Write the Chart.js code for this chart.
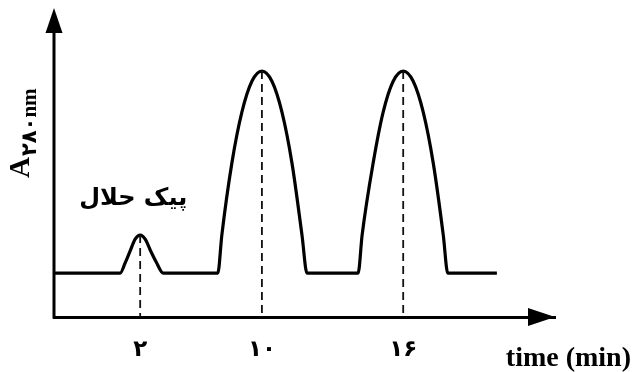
<!DOCTYPE html>
<html>
<head>
<meta charset="utf-8">
<script src="https://cdn.jsdelivr.net/npm/chart.js@4/dist/chart.umd.min.js"></script>
<style>
  html, body { margin: 0; padding: 0; background: #ffffff; }
  #wrap { width: 633px; height: 372px; }
</style>
</head>
<body>
<div id="wrap"><canvas id="c" width="633" height="372"></canvas></div>
<script>
// ---- data (time axis in arbitrary 0-100 units, absorbance 0-100) ----
const timeValues = [0, 13.2, 14.2, 15.2, 16.2, 17.2, 18.2, 19.2, 20.4, 21.8,
  32.7, 33.5, 35.5, 37.5, 39.5, 41.5, 43.5, 45.5, 47.5, 49.5, 50.5,
  60.7, 61.5, 63.7, 65.7, 67.7, 69.7, 71.7, 73.7, 75.7, 77.7, 78.6, 88.4];
const absorbance = [14.2, 14.2, 17.5, 21.4, 25.2, 26.5, 25.2, 21.7, 17.8, 14.2,
  14.2, 26.5, 49.8, 66.3, 76.3, 79.6, 76.3, 66.3, 49.8, 26.5, 14.2,
  14.2, 26.5, 49.8, 66.3, 76.3, 79.6, 76.3, 66.3, 49.8, 26.5, 14.2, 14.2];
const peakTimes = [17.2, 41.5, 69.7];
const peakHeights = [26.5, 79.6, 79.6];
const tickLabels = ['۲', '۱۰', '۱۶'];
const peakNote = 'پیک حلال';
const xTitle = 'time (min)';
const yTitleMain = 'A';
const yTitleSub = '۲۸۰nm';

const mainData = timeValues.map((t, i) => ({ x: t, y: absorbance[i] }));
const dashSets = peakTimes.map((t, i) => ({
  data: [{ x: t, y: peakHeights[i] }, { x: t, y: 0 }],
  borderColor: '#111',
  borderWidth: 1.8,
  borderDash: [8, 5],
  pointRadius: 0,
  fill: false,
  tension: 0
}));

const decor = {
  id: 'decor',
  afterDraw(chart) {
    const ctx = chart.ctx;
    const a = chart.chartArea;
    const xs = chart.scales.x, ys = chart.scales.y;
    ctx.save();
    ctx.fillStyle = '#000';
    ctx.strokeStyle = '#000';
    // y axis line + arrow
    ctx.lineWidth = 3;
    ctx.beginPath();
    ctx.moveTo(a.left, a.bottom + 1.5);
    ctx.lineTo(a.left, a.top + 22);
    ctx.stroke();
    ctx.beginPath();
    ctx.moveTo(a.left, a.top);
    ctx.lineTo(a.left - 8.5, a.top + 25);
    ctx.lineTo(a.left + 8.5, a.top + 25);
    ctx.closePath();
    ctx.fill();
    // x arrow head
    ctx.beginPath();
    ctx.moveTo(a.right, a.bottom);
    ctx.lineTo(a.right - 27, a.bottom - 9);
    ctx.lineTo(a.right - 27, a.bottom + 9);
    ctx.closePath();
    ctx.fill();
    // peak note
    ctx.font = 'bold 24px "DejaVu Sans"';
    ctx.textAlign = 'center';
    ctx.textBaseline = 'middle';
    ctx.fillText(peakNote, xs.getPixelForValue(peakTimes[0]) - 7, ys.getPixelForValue(peakHeights[0]) - 36);
    // x title
    ctx.font = 'bold 28px "Liberation Serif", "DejaVu Serif"';
    ctx.textAlign = 'right';
    ctx.textBaseline = 'alphabetic';
    ctx.fillText(xTitle, 631, 366);
    // y title rotated
    ctx.translate(29, 178);
    ctx.rotate(-Math.PI / 2);
    ctx.textAlign = 'left';
    ctx.font = 'bold 29px "Liberation Serif", "DejaVu Serif"';
    ctx.fillText(yTitleMain, 0, 0);
    const w = ctx.measureText(yTitleMain).width;
    ctx.font = 'bold 21px "Liberation Serif", "DejaVu Sans"';
    ctx.fillText(yTitleSub, w + 1, 7);
    ctx.restore();
  }
};

new Chart(document.getElementById('c'), {
  type: 'line',
  data: {
    datasets: [
      ...dashSets,
      {
        data: mainData,
        borderColor: '#000',
        borderWidth: 3.2,
        pointRadius: 0,
        fill: false,
        cubicInterpolationMode: 'monotone'
      }
    ]
  },
  options: {
    responsive: false,
    animation: false,
    devicePixelRatio: 1,
    layout: { padding: { left: 54, right: 78, top: 8, bottom: 0 } },
    plugins: { legend: { display: false }, tooltip: { enabled: false } },
    scales: {
      x: {
        type: 'linear',
        min: 0,
        max: 100,
        grid: { display: false, drawTicks: false },
        border: { display: true, color: '#000', width: 3 },
        afterBuildTicks: (s) => { s.ticks = peakTimes.map(v => ({ value: v })); },
        afterFit: (s) => { s.height = 55; },
        ticks: {
          autoSkip: false,
          maxRotation: 0,
          padding: 19,
          color: '#000',
          font: { family: 'DejaVu Sans', size: 23, weight: 'bold' },
          callback: (v, i) => tickLabels[i]
        }
      },
      y: { type: 'linear', min: 0, max: 100, display: false }
    }
  },
  plugins: [decor]
});
</script>
</body>
</html>
